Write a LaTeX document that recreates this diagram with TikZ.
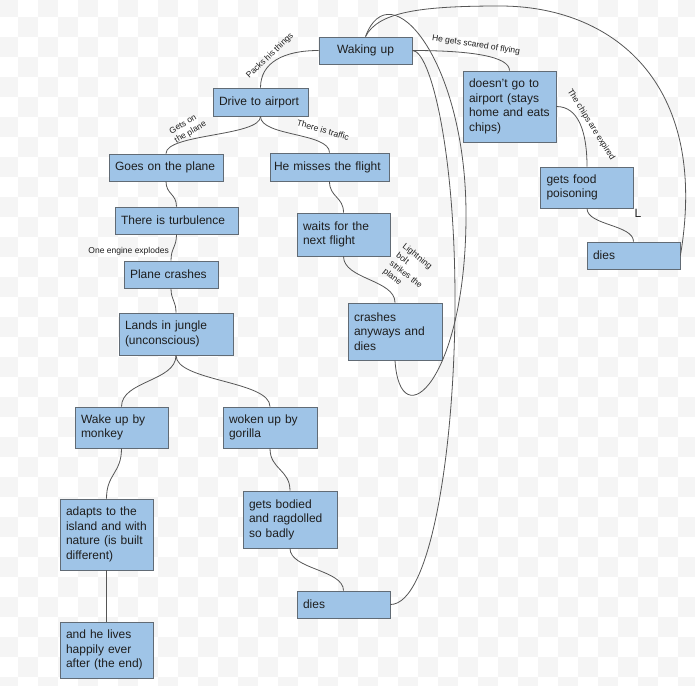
\documentclass[tikz,border=0pt]{standalone}
\usepackage{fontspec}
\setmainfont{Liberation Sans}

\definecolor{boxfill}{HTML}{9FC4E7}
\definecolor{boxline}{HTML}{616B75}
\definecolor{linkgray}{HTML}{555555}
\definecolor{inkdark}{HTML}{1E1E1E}
\definecolor{checkgray}{HTML}{F5F5F5}

\newcommand{\storyfont}{\fontsize{12}{14.5}\selectfont}
\newcommand{\edgefont}{\fontsize{8.5}{10.5}\selectfont}

\tikzset{
  storybox/.style 2 args={draw=boxline, fill=boxfill, line width=0.8pt, rectangle,
    inner xsep=6pt, inner ysep=0pt, align=left, font=\storyfont, text=inkdark,
    minimum width=#1pt, text width=#1pt-12pt, minimum height=#2pt},
  link/.style={draw=linkgray, line width=0.8pt},
  edgelabel/.style={font=\edgefont, text=inkdark, inner sep=0pt, align=left},
  checker/.style={fill=checkgray},
}

\begin{document}
\begin{tikzpicture}[x=1pt, y=1pt]
                \useasboundingbox[fill=white] (0,0) rectangle (695,-685);
                \foreach \col in {0,...,35} {
                  \foreach \row in {0,...,35} {
                    \pgfmathtruncatemacro{\checkodd}{mod(\col+\row,2)}
                    \ifnum\checkodd=0
                      \fill[checker] (\col*20-2,-\row*20+3) rectangle ++(20,-20);
                    \fi
                  }
                }

                \node[storybox={93}{27}, align=center] (wakingup) at (365.5,-50.5) {Waking up};
                \node[storybox={95}{28}] (drivetoairport) at (260.5,-102) {Drive to airport};
                \node[storybox={114}{27}] (goesontheplane) at (166,-167.5) {Goes on the plane};
                \node[storybox={119}{28}, inner xsep=4pt, text width=111pt] (missestheflight) at (329.5,-167) {He misses the flight};
                \node[storybox={123}{27}] (turbulence) at (176.5,-220.5) {There is turbulence};
                \node[storybox={93}{43}] (waitsfornext) at (343.5,-234.5) {waits for the\\next flight};
                \node[storybox={94}{27}] (planecrashes) at (171,-274.5) {Plane crashes};
                \node[storybox={94}{57}] (crashesanyways) at (395,-331.5) {crashes\\anyways and\\dies};
                \node[storybox={114}{42}] (landsinjungle) at (176,-334) {Lands in jungle\\(unconscious)};
                \node[storybox={93}{41}] (wakebymonkey) at (121.5,-427.5) {Wake up by\\monkey};
                \node[storybox={94}{41}] (wokenbygorilla) at (270,-427.5) {woken up by\\gorilla};
                \node[storybox={93}{71}] (adaptstoisland) at (106.5,-534.5) {adapts to the\\island and with\\nature (is built\\different)};
                \node[storybox={94}{57}] (getsbodied) at (290,-519.5) {gets bodied\\and ragdolled\\so badly};
                \node[storybox={93}{27}] (diesjungle) at (343.5,-604.5) {dies};
                \node[storybox={93}{56}] (liveshappily) at (106.5,-650) {and he lives\\happily ever\\after (the end)};
                \node[storybox={93}{71}] (doesntgo) at (509.5,-106.5) {doesn't go to\\airport (stays\\home and eats\\chips)};
                \node[storybox={93}{41}] (foodpoisoning) at (587,-187.5) {gets food\\poisoning};
                \node[storybox={93}{27}] (dieshome) at (633.5,-255.5) {dies};

                \node[edgelabel, rotate=44] (packs) at (270,-56) {Packs his things};
                \node[edgelabel, rotate=30] (getson) at (188,-128) {Gets on\\the plane};
                \node[edgelabel, rotate=-16] (traffic) at (323,-130) {There is traffic};
                \node[edgelabel, anchor=east] (engine) at (169,-251.5) {One engine explodes};
                \node[edgelabel, rotate=-38] (lightning) at (409,-270.5) {Lightning\\bolt\\strikes the\\plane};
                \node[edgelabel, rotate=-9] (scared) at (476,-45) {He gets scared of flying};
                \node[edgelabel, rotate=-58] (chips) at (591,-125) {The chips are expired};
                \node[font=\storyfont, text=inkdark, inner sep=0pt] (strayl) at (638,-213) {L};

                \draw[link] (wakingup.west) .. controls +(-35,0) and +(0,25) .. (drivetoairport.north);
                \draw[link] (drivetoairport.south) .. controls +(0,-20) and +(0,20) .. (goesontheplane.north);
                \draw[link] (drivetoairport.south) .. controls +(0,-20) and +(0,20) .. (missestheflight.north);
                \draw[link] (goesontheplane.south) .. controls +(0,-13) and +(0,13) .. (turbulence.north);
                \draw[link] (turbulence.south) .. controls +(0,-13) and +(0,13) .. (planecrashes.north);
                \draw[link] (planecrashes.south) .. controls +(0,-12) and +(0,12) .. (landsinjungle.north);
                \draw[link] (landsinjungle.south) .. controls +(0,-26) and +(0,26) .. (wakebymonkey.north);
                \draw[link] (landsinjungle.south) .. controls +(0,-26) and +(0,26) .. (wokenbygorilla.north);
                \draw[link] (wakebymonkey.south) .. controls +(0,-25) and +(0,25) .. (adaptstoisland.north);
                \draw[link] (adaptstoisland.south) -- (liveshappily.north);
                \draw[link] (wokenbygorilla.south) .. controls +(0,-21) and +(0,21) .. (getsbodied.north);
                \draw[link] (getsbodied.south) .. controls +(0,-21) and +(0,21) .. (diesjungle.north);
                \draw[link] (missestheflight.south) .. controls +(0,-16) and +(0,16) .. (waitsfornext.north);
                \draw[link] (waitsfornext.south) .. controls +(0,-23) and +(0,23) .. (crashesanyways.north);
                \draw[link] (wakingup.east) .. controls +(60,0) and +(0,14) .. (doesntgo.north);
                \draw[link] (doesntgo.east) .. controls +(22,0) and +(0,35) .. (foodpoisoning.north);
                \draw[link] (foodpoisoning.south) .. controls +(0,-17) and +(0,17) .. (dieshome.north);
                \draw[link] (wakingup.east) .. controls +(18,0) and +(0,150) .. (455,-300)
                                            .. controls +(0,-150) and +(40,0) .. (diesjungle.east);
                \draw[link] (wakingup.north) .. controls (390,30) and (466,-60) .. (466,-215)
                                             .. controls (466,-380) and (400,-440) .. (crashesanyways.south);
                \draw[link] (wakingup.north) .. controls (378,-12) and (420,-6) .. (500,-6)
                                             .. controls (610,-6) and (710,-80) .. (dieshome.east);
            \end{tikzpicture}
\end{document}
